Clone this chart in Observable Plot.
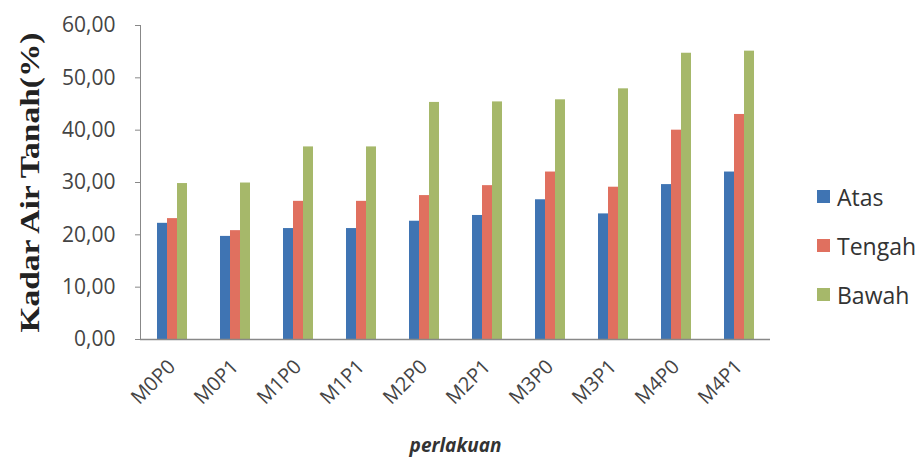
<!DOCTYPE html>
<html>
<head>
<meta charset="utf-8">
<script src="https://cdn.jsdelivr.net/npm/d3@7"></script>
<script src="https://cdn.jsdelivr.net/npm/@observablehq/plot@0.6"></script>
<style>
  html, body { margin: 0; padding: 0; background: #fff; }
  #wrap { position: relative; width: 917px; height: 460px; }
  #chart svg { display: block; }
  g[aria-label="y-axis label"] text { font-family: "Liberation Serif", serif; font-weight: bold; font-size: 28px; fill: #222; }
  g[aria-label="fx-axis label"] text { font-family: "Open Sans", sans-serif; font-weight: bold; font-style: italic; font-size: 19px; fill: #333; }
  #legend { position: absolute; left: 817px; top: 172px; font-family: "Open Sans", sans-serif; font-size: 23px; color: #333; }
  #legend .item { display: flex; align-items: center; height: 49px; }
  #legend .sw { width: 13px; height: 13px; margin-right: 7px; }
</style>
</head>
<body>
<div id="wrap">
  <div id="chart"></div>
  <div id="legend"></div>
</div>
<script>
const categories = ["M0P0", "M0P1", "M1P0", "M1P1", "M2P0", "M2P1", "M3P0", "M3P1", "M4P0", "M4P1"];
const series = ["Atas", "Tengah", "Bawah"];
const atas   = [22.2, 19.7, 21.2, 21.2, 22.6, 23.7, 26.7, 24.0, 29.6, 32.0];
const tengah = [23.1, 20.8, 26.4, 26.4, 27.5, 29.4, 32.0, 29.1, 40.0, 43.0];
const bawah  = [29.8, 29.9, 36.8, 36.8, 45.3, 45.4, 45.8, 47.9, 54.7, 55.1];
const yTicks = [0, 10, 20, 30, 40, 50, 60];
const colors = ["#3f74b3", "#e0705f", "#a6b86a"];

const valuesBySeries = [atas, tengah, bawah];
const data = categories.flatMap((c, i) =>
  series.map((s, j) => ({category: c, series: s, value: valuesBySeries[j][i]}))
);

const chart = Plot.plot({
  width: 917,
  height: 460,
  marginLeft: 138,
  marginRight: 145,
  marginTop: 25,
  marginBottom: 121,
  style: {fontFamily: "Open Sans, sans-serif", fontSize: "21px", color: "#444", background: "#fff"},
  fx: {domain: categories, padding: 0},
  x: {domain: series, paddingInner: 0, paddingOuter: 1.5, axis: null},
  y: {domain: [0, 60]},
  color: {domain: series, range: colors},
  marks: [
    Plot.axisY({
      ticks: yTicks,
      tickFormat: d => d.toFixed(2).replace(".", ","),
      tickSize: 5,
      tickPadding: 20,
      stroke: "#888",
      fontSize: 21,
      label: "Kadar Air Tanah(%)",
      labelAnchor: "center",
      labelArrow: "none",
      labelOffset: 121
    }),
    Plot.axisFx({
      anchor: "bottom",
      tickRotate: -45,
      tickSize: 0,
      tickPadding: 24,
      fontSize: 20,
      label: "perlakuan",
      labelAnchor: "center",
      labelArrow: "none",
      labelOffset: 112
    }),
    Plot.barY(data, {fx: "category", x: "series", y: "value", fill: "series"}),
    Plot.ruleY([0], {stroke: "#888", strokeWidth: 1.5}),
    Plot.frame({anchor: "left", facetAnchor: "left", stroke: "#888"})
  ]
});
document.getElementById("chart").appendChild(chart);

const yl = chart.querySelector('g[aria-label="y-axis label"] text');
if (yl) { yl.setAttribute("textLength", "300"); yl.setAttribute("lengthAdjust", "spacingAndGlyphs"); }

const legend = document.getElementById("legend");
series.forEach((s, j) => {
  const item = document.createElement("div");
  item.className = "item";
  const sw = document.createElement("span");
  sw.className = "sw";
  sw.style.background = colors[j];
  const t = document.createElement("span");
  t.textContent = s;
  item.appendChild(sw);
  item.appendChild(t);
  legend.appendChild(item);
});
</script>
</body>
</html>
